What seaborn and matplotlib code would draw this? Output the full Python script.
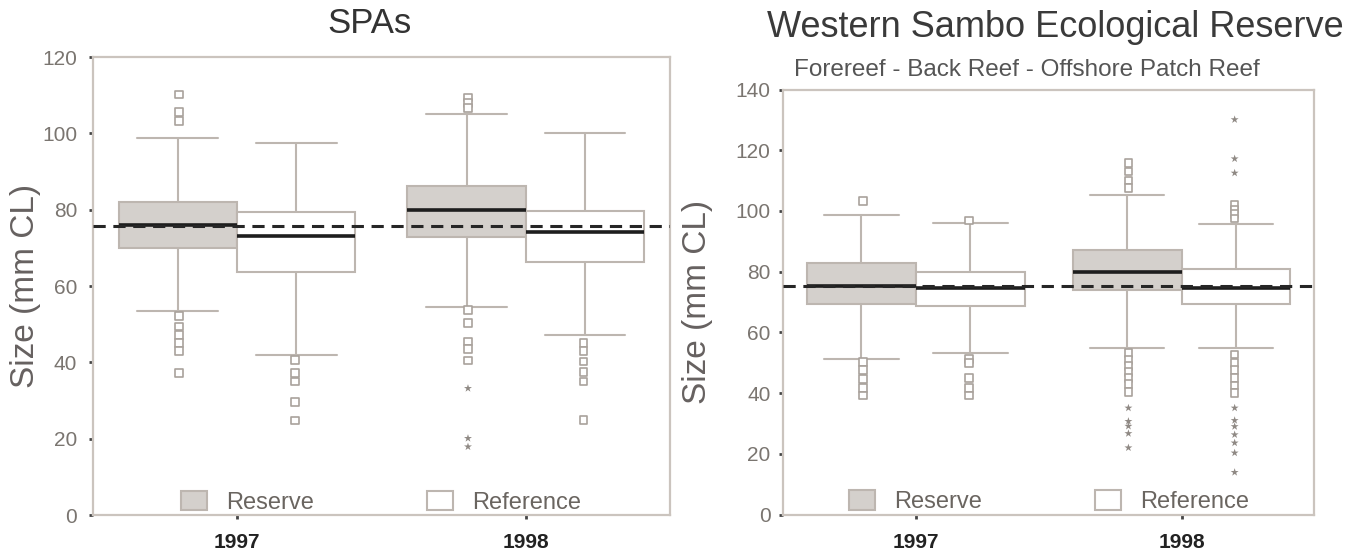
import matplotlib
matplotlib.use("Agg")
import matplotlib.pyplot as plt
import seaborn as sns
import pandas as pd

years = ["1997", "1998"]
sites = ["Reserve", "Reference"]

# box summaries: (year, site, low whisker, q1, median, q3, high whisker)
spa_boxes = [
    ("1997", "Reserve", 53.4, 70.0, 75.9, 82.0, 98.9),
    ("1997", "Reference", 41.9, 63.7, 73.2, 79.4, 97.6),
    ("1998", "Reserve", 54.4, 72.9, 79.9, 86.2, 105.2),
    ("1998", "Reference", 47.2, 66.2, 74.1, 79.6, 100.2),
]
spa_outliers = {
    ("1997", "Reserve"): [110.2, 105.6, 103.2, 52.2, 49.4, 47.2, 45.1, 42.9, 37.2],
    ("1997", "Reference"): [40.7, 37.2, 35.0, 29.7, 24.8],
    ("1998", "Reserve"): [109.4, 108.0, 106.7, 53.8, 50.3, 45.5, 43.5, 40.5],
    ("1998", "Reference"): [45.0, 42.9, 40.2, 37.5, 35.0, 24.9],
}
spa_extremes = {
    ("1998", "Reserve"): [33.2, 20.1, 17.9],
}

wser_boxes = [
    ("1997", "Reserve", 51.1, 69.5, 75.4, 82.7, 98.5),
    ("1997", "Reference", 53.2, 68.6, 74.7, 79.9, 96.1),
    ("1998", "Reserve", 54.9, 74.1, 79.9, 87.1, 105.2),
    ("1998", "Reference", 54.9, 69.4, 74.7, 80.9, 95.7),
]
wser_outliers = {
    ("1997", "Reserve"): [103.2, 50.2, 47.5, 44.7, 41.7, 39.2],
    ("1997", "Reference"): [96.8, 51.3, 50.0, 45.0, 41.7, 39.2],
    ("1998", "Reserve"): [115.8, 113.0, 110.0, 107.5, 53.3, 51.0, 49.0, 47.0, 45.0, 43.0, 40.4],
    ("1998", "Reference"): [102.0, 100.5, 99.0, 97.5, 52.7, 50.0, 47.5, 45.0, 42.5, 40.0],
}
wser_extremes = {
    ("1998", "Reserve"): [35.1, 30.7, 29.1, 26.7, 22.0],
    ("1998", "Reference"): [130.1, 117.2, 112.5, 35.1, 31.0, 29.0, 26.3, 23.6, 20.3, 13.9],
}

spa_mean_size = 75.8
wser_mean_size = 75.4

fill_colors = {"Reserve": "#d4d0cc", "Reference": "#ffffff"}
line_color = "#bdb6b0"


def box_frame(boxes):
    rows = []
    for year, site, *stats in boxes:
        for v in stats:
            rows.append({"year": year, "site": site, "size": v})
    return pd.DataFrame(rows)


def point_frame(points):
    rows = [{"year": y, "site": s, "size": v} for (y, s), vals in points.items() for v in vals]
    return pd.DataFrame(rows)


def draw_panel(ax, boxes, outliers, extremes, mean_size, ymax):
    sns.boxplot(data=box_frame(boxes), x="year", y="size", hue="site",
                order=years, hue_order=sites, palette=fill_colors, saturation=1,
                linecolor=line_color, linewidth=1.5, whis=(0, 100), showfliers=False,
                width=0.82, gap=0, capwidths=0.28,
                medianprops=dict(color="#1e1e1e", linewidth=2.6), ax=ax)
    sns.stripplot(data=point_frame(outliers), x="year", y="size", hue="site",
                  order=years, hue_order=sites, dodge=True, jitter=False,
                  marker="s", size=5.5, palette={"Reserve": "white", "Reference": "white"},
                  edgecolor="#a9a29c", linewidth=1.2, legend=False, ax=ax)
    sns.stripplot(data=point_frame(extremes), x="year", y="size", hue="site",
                  order=years, hue_order=sites, dodge=True, jitter=False,
                  marker="*", size=6, palette={"Reserve": "#8f8984", "Reference": "#8f8984"},
                  linewidth=0, legend=False, ax=ax)
    ax.axhline(mean_size, color="#262626", lw=2.2, ls=(0, (4, 2.5)), zorder=5)

    ax.set_xlim(-0.5, 1.5)
    ax.set_ylim(0, ymax)
    ax.set_yticks(range(0, ymax + 1, 20))
    ax.set_xlabel("")
    for sp in ax.spines.values():
        sp.set_visible(True)
        sp.set_color("#cbc4be")
        sp.set_linewidth(1.6)
    ax.tick_params(axis="y", left=True, length=3, width=2, color="#444444", labelsize=15,
                   labelcolor="#7a7570")
    ax.tick_params(axis="x", bottom=True, length=3, width=2, color="#444444", labelsize=15,
                   labelcolor="#222222", pad=10)
    for lab in ax.get_xticklabels():
        lab.set_fontweight("bold")
    sns.move_legend(ax, "lower center", bbox_to_anchor=(0.5, 0.0), ncol=2, frameon=False,
                    title=None, fontsize=17, handlelength=1.1, handleheight=0.9,
                    handletextpad=0.8, columnspacing=4.8, borderaxespad=0.05, borderpad=0.0,
                    labelcolor="#6a6560")


sns.set_style("white")
plt.rcParams["font.family"] = ["Liberation Sans", "DejaVu Sans"]

fig = plt.figure(figsize=(13.62, 5.57), dpi=100)
ax1 = fig.add_axes([0.068, 0.0754, 0.424, 0.822])
ax2 = fig.add_axes([0.575, 0.0763, 0.390, 0.763])

draw_panel(ax1, spa_boxes, spa_outliers, spa_extremes, spa_mean_size, 120)
draw_panel(ax2, wser_boxes, wser_outliers, wser_extremes, wser_mean_size, 140)

ax1.tick_params(axis="y", pad=8)
ax2.tick_params(axis="y", pad=6)
ax1.set_ylabel("Size (mm CL)", fontsize=24, color="#666160", labelpad=1)
ax2.set_ylabel("Size (mm CL)", fontsize=24, color="#666160", labelpad=16)

fig.text(0.271, 0.957, "SPAs", ha="center", va="center", fontsize=25, color="#333333")
fig.text(0.775, 0.951, "Western Sambo Ecological Reserve", ha="center", va="center",
         fontsize=26, color="#3a3a3a")
fig.text(0.754, 0.874, "Forereef - Back Reef - Offshore Patch Reef", ha="center",
         va="center", fontsize=17.5, color="#555555")

fig.savefig("out.png", dpi=100)
